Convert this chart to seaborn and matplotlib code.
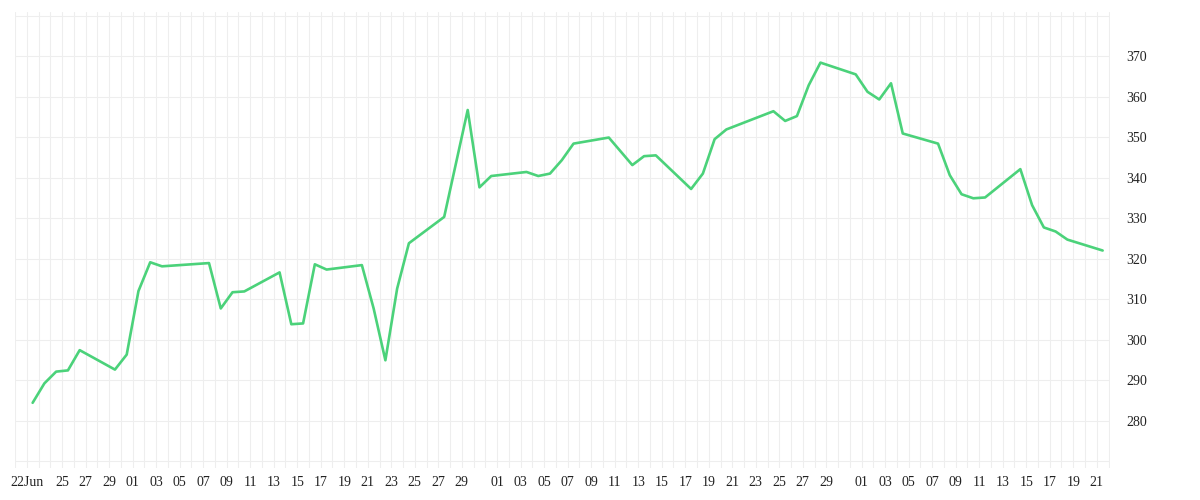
import matplotlib
matplotlib.use('Agg')
import matplotlib.pyplot as plt
import matplotlib.dates as mdates
import pandas as pd
import seaborn as sns

# daily closes (trading days, 2020)
dates = [
    "2020-06-22", "2020-06-23", "2020-06-24", "2020-06-25", "2020-06-26",
    "2020-06-29", "2020-06-30", "2020-07-01", "2020-07-02", "2020-07-03",
    "2020-07-07", "2020-07-08", "2020-07-09", "2020-07-10",
    "2020-07-13", "2020-07-14", "2020-07-15", "2020-07-16", "2020-07-17",
    "2020-07-20", "2020-07-21", "2020-07-22", "2020-07-23", "2020-07-24",
    "2020-07-27", "2020-07-29", "2020-07-30", "2020-07-31",
    "2020-08-03", "2020-08-04", "2020-08-05", "2020-08-06", "2020-08-07",
    "2020-08-10", "2020-08-12", "2020-08-13", "2020-08-14",
    "2020-08-17", "2020-08-18", "2020-08-19", "2020-08-20",
    "2020-08-24", "2020-08-25", "2020-08-26", "2020-08-27", "2020-08-28",
    "2020-08-31", "2020-09-01", "2020-09-02", "2020-09-03", "2020-09-04",
    "2020-09-07", "2020-09-08", "2020-09-09", "2020-09-10", "2020-09-11",
    "2020-09-14", "2020-09-15", "2020-09-16", "2020-09-17", "2020-09-18",
    "2020-09-21",
]
prices = [
    284.4, 289.2, 292.1, 292.4, 297.4,
    292.6, 296.3, 312.0, 319.1, 318.1,
    318.9, 307.7, 311.7, 311.9,
    316.6, 303.8, 304.0, 318.6, 317.3,
    318.4, 307.7, 294.9, 312.6, 323.8,
    330.3, 356.7, 337.6, 340.4,
    341.4, 340.4, 341.0, 344.3, 348.4,
    349.9, 343.1, 345.3, 345.5,
    337.2, 341.0, 349.5, 351.9,
    356.4, 354.0, 355.2, 362.8, 368.4,
    365.5, 361.2, 359.3, 363.3, 350.9,
    348.4, 340.6, 335.9, 334.9, 335.1,
    342.1, 333.2, 327.7, 326.7, 324.7,
    322.0,
]

tick_dates = [
    "2020-06-22", "2020-06-25", "2020-06-27", "2020-06-29",
    "2020-07-01", "2020-07-03", "2020-07-05", "2020-07-07", "2020-07-09",
    "2020-07-11", "2020-07-13", "2020-07-15", "2020-07-17", "2020-07-19",
    "2020-07-21", "2020-07-23", "2020-07-25", "2020-07-27", "2020-07-29",
    "2020-08-01", "2020-08-03", "2020-08-05", "2020-08-07", "2020-08-09",
    "2020-08-11", "2020-08-13", "2020-08-15", "2020-08-17", "2020-08-19",
    "2020-08-21", "2020-08-23", "2020-08-25", "2020-08-27", "2020-08-29",
    "2020-09-01", "2020-09-03", "2020-09-05", "2020-09-07", "2020-09-09",
    "2020-09-11", "2020-09-13", "2020-09-15", "2020-09-17", "2020-09-19",
    "2020-09-21",
]
tick_labels = ["22Jun"] + [d[-2:] for d in tick_dates[1:]]
y_ticks = list(range(270, 381, 10))
y_labels = ["" if v in (270, 380) else str(v) for v in y_ticks]

sns.set_style("white")
plt.rcParams['font.family'] = ['Liberation Serif', 'DejaVu Serif']

# closes are stamped mid-day, gridlines fall on midnight
df = pd.DataFrame({
    'date': pd.to_datetime(dates) + pd.Timedelta(hours=12),
    'price': prices,
})

fig = plt.figure(figsize=(12, 5), dpi=100)
ax = fig.add_axes([15 / 1200, 32 / 500, 1095 / 1200, 456 / 500])

sns.lineplot(data=df, x='date', y='price', ax=ax, color='#4bd27a', linewidth=1.9)

ax.set_xlim(pd.Timestamp("2020-06-21"), pd.Timestamp("2020-09-22 03:00"))
ax.set_ylim(268.3, 380.9)

ax.xaxis.set_minor_locator(mdates.DayLocator())
ax.set_xticks(pd.to_datetime(tick_dates))
ax.set_xticklabels(tick_labels)

ax.yaxis.tick_right()
ax.set_yticks(y_ticks)
ax.set_yticklabels(y_labels)

ax.grid(True, which='both', color='#eeeeee', linewidth=0.8)
ax.set_axisbelow(True)
for s in ax.spines.values():
    s.set_visible(False)

ax.tick_params(axis='x', which='both', length=0, pad=6, labelsize=10, colors='#222222')
ax.tick_params(axis='y', which='both', length=0, pad=12, labelsize=10, colors='#222222')
ax.set_xlabel("")
ax.set_ylabel("")

fig.savefig('out.png', dpi=100)
plt.close(fig)
